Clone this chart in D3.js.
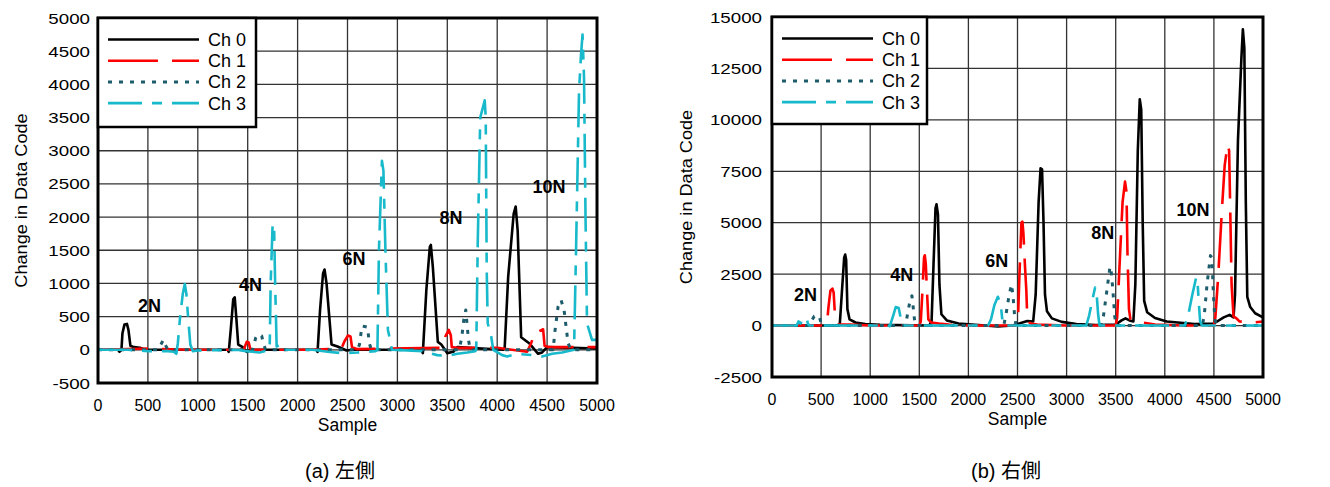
<!DOCTYPE html>
<html>
<head>
<meta charset="utf-8">
<title>Change in Data Code</title>
<script src="https://cdn.jsdelivr.net/npm/d3@7/dist/d3.min.js"></script>
<style>
  body { margin: 0; background: #fff; }
  svg text { font-family: "Liberation Sans", Arial, "Noto Sans CJK JP", sans-serif; }
</style>
</head>
<body>
<div id="chart"></div>
<script>
// ---- data (sample, change in data code) ----
var xTicks = [0, 500, 1000, 1500, 2000, 2500, 3000, 3500, 4000, 4500, 5000];
var leftYTicks = [-500, 0, 500, 1000, 1500, 2000, 2500, 3000, 3500, 4000, 4500, 5000];
var rightYTicks = [-2500, 0, 2500, 5000, 7500, 10000, 12500, 15000];
var channels = ["Ch 0", "Ch 1", "Ch 2", "Ch 3"];
var forceLabels = ["2N", "4N", "6N", "8N", "10N"];

var leftCh0 = [[0,0],[200,0],[215,-30],[235,0],[245,250],[265,380],[290,390],[305,300],[325,60],[360,40],[420,30],[470,0],
  [1300,0],[1310,-30],[1330,300],[1355,760],[1370,790],[1385,500],[1405,80],[1450,40],[1490,-30],[1530,0],
  [2190,0],[2200,-30],[2225,600],[2255,1150],[2270,1210],[2290,1000],[2340,80],[2400,50],[2490,-10],[2560,0],
  [3240,0],[3255,-50],[3290,900],[3325,1550],[3335,1580],[3355,1250],[3405,120],[3440,80],[3500,-50],[3560,-30],[3600,40],
  [4060,0],[4075,30],[4110,1100],[4165,2050],[4185,2160],[4205,1800],[4240,190],[4320,100],[4410,-60],[4450,-40],[4500,40],[5000,20]];
var leftCh1 = [[0,0],[300,10],[500,20],[900,0],[1200,0],[1460,0],[1490,120],[1510,110],[1525,20],[1550,0],
  [2100,0],[2440,20],[2470,130],[2505,215],[2530,200],[2545,40],[2600,10],
  [3450,30],[3480,200],[3515,300],[3535,220],[3545,40],[3600,30],[4000,30],
  [4300,-30],[4340,100],[4385,290],[4420,280],[4460,310],[4475,60],[4520,40],[5000,40]];
var leftCh2 = [[0,0],[600,0],[630,80],[655,150],[680,60],[700,0],[1550,0],[1580,180],[1600,230],[1640,210],[1660,80],[1680,0],
  [2600,0],[2620,80],[2645,360],[2700,340],[2720,90],[2740,0],[3620,0],[3645,190],[3665,450],[3685,600],[3700,350],[3712,150],[3730,0],
  [4560,0],[4580,300],[4610,650],[4640,750],[4670,600],[4690,350],[4710,100],[4740,0],[5000,0]];
var leftCh3 = [[0,0],[300,0],[500,-20],[700,-20],[760,-30],[785,-60],[800,100],[820,450],[850,850],[870,990],[885,850],[905,450],[925,80],[950,-20],
  [1000,-10],[1400,0],[1480,-20],[1550,-30],[1620,-40],[1700,-10],[1720,0],[1730,1000],[1750,1900],[1765,1800],[1775,1000],[1790,50],[1830,80],[1860,0],
  [2150,0],[2300,-30],[2450,-50],[2600,-40],[2780,-20],[2800,0],[2815,1500],[2845,2850],[2860,2700],[2880,1500],[2905,300],[2925,160],[2945,0],
  [3250,-20],[3400,-80],[3500,-90],[3600,-60],[3700,-40],[3780,-20],[3790,0],[3805,1600],[3830,3500],[3865,3700],[3875,3760],[3885,3500],[3895,1200],[3905,400],[3940,200],[3960,0],
  [4050,-80],[4100,-100],[4200,-60],[4350,-80],[4450,-100],[4550,-60],[4650,-40],[4770,0],[4790,1500],[4820,3900],[4840,4450],[4855,4750],[4870,4100],[4885,2000],[4900,400],[4950,150],[5000,150]];

var rightCh0 = [[0,0],[650,0],[690,50],[710,1500],[735,3300],[745,3450],[755,3200],[768,800],[790,300],[850,150],[950,80],[1100,40],
  [1600,0],[1625,200],[1645,3000],[1665,5700],[1675,5900],[1690,5400],[1705,2000],[1725,550],[1780,250],[1900,100],[2100,30],[2300,-40],
  [2450,0],[2550,150],[2600,220],[2660,200],[2685,1500],[2715,6000],[2735,7650],[2750,7600],[2765,5000],[2780,1500],[2800,700],[2850,350],[2950,180],[3100,80],
  [3300,30],[3500,50],[3560,250],[3600,350],[3640,250],[3680,200],[3700,2000],[3725,8500],[3745,11000],[3760,10500],[3775,5000],[3790,1200],[3820,650],[3900,370],[4020,200],[4300,80],
  [4500,100],[4600,400],[4660,520],[4700,400],[4715,1500],[4745,9000],[4780,13000],[4795,14400],[4810,13500],[4825,6000],[4840,1400],[4870,900],[4920,600],[5000,400]];
var rightCh1 = [[0,0],[540,0],[560,100],[575,900],[595,1700],[615,1800],[628,1600],[640,600],[652,200],[680,50],[800,50],[1000,0],
  [1500,0],[1515,200],[1530,1500],[1548,3300],[1556,3420],[1566,3000],[1580,1500],[1592,300],[1620,150],[1700,100],[1800,50],[2000,0],
  [2490,0],[2505,300],[2520,2500],[2540,5000],[2550,5050],[2560,4500],[2575,3000],[2590,1700],[2600,300],[2630,100],[2700,50],[3000,0],
  [3500,0],[3515,400],[3540,3000],[3570,6000],[3595,7000],[3610,6500],[3620,3500],[3635,800],[3650,300],[3700,200],[3900,50],[4200,0],
  [4500,0],[4515,400],[4545,2500],[4580,5500],[4610,7800],[4640,8800],[4655,8500],[4665,6000],[4680,2000],[4700,450],[4730,350],[4760,200],[4900,150],[5000,200]];
var rightCh2 = [[0,0],[380,0],[400,200],[430,450],[470,500],[490,300],[505,0],[1360,0],[1385,700],[1410,1300],[1425,1450],[1440,800],[1455,100],[1470,0],
  [2360,0],[2385,600],[2415,1500],[2440,2000],[2455,1400],[2470,500],[2485,0],[3350,0],[3375,450],[3410,1700],[3440,2800],[3450,2860],[3470,1800],[3490,450],[3505,0],
  [4380,0],[4400,400],[4430,2000],[4465,3400],[4480,3300],[4495,1500],[4510,300],[4525,0],[5000,0]];
var rightCh3 = [[0,0],[250,0],[270,200],[290,100],[330,350],[350,400],[365,100],[380,0],[1180,0],[1200,-30],[1235,500],[1260,900],[1290,850],[1305,500],[1320,100],[1340,0],
  [2200,0],[2230,300],[2265,1000],[2300,1400],[2330,1000],[2345,300],[2360,0],[3200,0],[3230,500],[3265,1300],[3290,1850],[3305,1600],[3320,600],[3335,0],
  [4200,0],[4230,300],[4280,1500],[4320,2350],[4335,2000],[4345,1200],[4360,200],[4380,0],[5000,0]];

// where the force labels sit, in data units
var leftLabelPos = [[516,572],[1528,889],[2565,1280],[3537,1898],[4519,2364]];
var rightLabelPos = [[341,1215],[1321,2154],[2288,2868],[3369,4213],[4287,5350]];

// ---- styles ----
var chColor = ["#000000", "#ff0000", "#1d5c6b", "#17b9ca"];
var chDash = [null, "50,14", "4,7", "34,10,10,10"];
var chWidth = [2.6, 2.6, 3, 2.6];

var svg = d3.select("#chart").append("svg").attr("width", 1330).attr("height", 487);

function drawPanel(p) {
  var x = d3.scaleLinear().domain([0, 5000]).range([p.x0, p.x1]);
  var y = d3.scaleLinear().domain(p.yDomain).range([p.y1, p.y0]);
  var g = svg.append("g");

  // grid
  g.selectAll(".vg").data(xTicks).enter().append("line")
    .attr("x1", function(d){ return x(d); }).attr("x2", function(d){ return x(d); })
    .attr("y1", p.y0).attr("y2", p.y1).style("stroke", "#333").style("stroke-width", 1.3);
  g.selectAll(".hg").data(p.yTicks).enter().append("line")
    .attr("x1", p.x0).attr("x2", p.x1)
    .attr("y1", function(d){ return y(d); }).attr("y2", function(d){ return y(d); })
    .style("stroke", "#333").style("stroke-width", 1.3);

  // tick labels
  g.selectAll(".xt").data(xTicks).enter().append("text")
    .attr("x", function(d){ return x(d); }).attr("y", p.y1 + 28)
    .attr("text-anchor", "middle").style("font-size", "16px").text(function(d){ return d; });
  g.selectAll(".yt").data(p.yTicks).enter().append("text")
    .attr("transform", function(d){ return "translate(" + (p.x0 - p.yGap) + "," + (y(d) + 5.5) + ") scale(1.25,1)"; })
    .attr("text-anchor", "end").style("font-size", "15px").text(function(d){ return d; });

  // axis titles
  g.append("text").attr("x", (p.x0 + p.x1) / 2).attr("y", p.y1 + 48)
    .attr("text-anchor", "middle").style("font-size", "17.5px").text("Sample");
  g.append("text")
    .attr("transform", "translate(" + p.titleX + "," + ((p.y0 + p.y1) / 2) + ") rotate(-90) scale(1.1,1)")
    .attr("text-anchor", "middle").style("font-size", "16.5px").text("Change in Data Code");

  // series
  var clipId = "clip" + p.id;
  svg.append("clipPath").attr("id", clipId).append("rect")
    .attr("x", p.x0).attr("y", p.y0).attr("width", p.x1 - p.x0).attr("height", p.y1 - p.y0);
  var line = d3.line().x(function(d){ return x(d[0]); }).y(function(d){ return y(d[1]); });
  p.series.forEach(function(s, i){
    g.append("path").datum(s).attr("d", line).attr("clip-path", "url(#" + clipId + ")")
      .style("fill", "none").style("stroke", chColor[i]).style("stroke-width", chWidth[i])
      .style("stroke-dasharray", chDash[i]).style("stroke-linejoin", "round");
  });

  // force labels
  g.selectAll(".fl").data(p.labels).enter().append("text")
    .attr("x", function(d){ return x(d[0]); }).attr("y", function(d){ return y(d[1]); })
    .attr("text-anchor", "middle").style("font-size", "18px").style("font-weight", "bold")
    .text(function(d, i){ return forceLabels[i]; });

  // frame
  g.append("rect").attr("x", p.x0).attr("y", p.y0).attr("width", p.x1 - p.x0).attr("height", p.y1 - p.y0)
    .style("fill", "none").style("stroke", "#000").style("stroke-width", 3);

  // legend
  var lg = g.append("g");
  lg.append("rect").attr("x", p.x0).attr("y", p.y0).attr("width", p.legW).attr("height", p.legH)
    .style("fill", "#fff").style("stroke", "#000").style("stroke-width", 2.5);
  channels.forEach(function(c, i){
    var ly = p.y0 + 21.5 + i * 21.2;
    lg.append("line").attr("x1", p.x0 + 10).attr("x2", p.x0 + 101).attr("y1", ly).attr("y2", ly)
      .style("stroke", chColor[i]).style("stroke-width", chWidth[i]).style("stroke-dasharray", chDash[i]);
    lg.append("text").attr("x", p.x0 + 110).attr("y", ly + 6.5).style("font-size", "18px").text(c);
  });

  // caption
  svg.append("text").attr("x", p.capX).attr("y", 478).attr("text-anchor", "middle")
    .style("font-size", "20px").text(p.caption);
}

drawPanel({id: "L", x0: 98, x1: 597, y0: 18, y1: 383, yDomain: [-500, 5000], yTicks: leftYTicks, yGap: 8,
  titleX: 27, series: [leftCh0, leftCh1, leftCh2, leftCh3], labels: leftLabelPos,
  legW: 158, legH: 109, capX: 340, caption: "(a) 左側"});
drawPanel({id: "R", x0: 772, x1: 1263, y0: 17, y1: 377, yDomain: [-2500, 15000], yTicks: rightYTicks, yGap: 10,
  titleX: 692, series: [rightCh0, rightCh1, rightCh2, rightCh3], labels: rightLabelPos,
  legW: 155, legH: 107, capX: 1006, caption: "(b) 右側"});
</script>
</body>
</html>
